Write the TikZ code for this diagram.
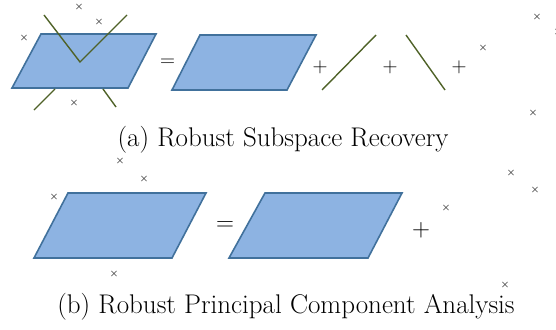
\documentclass[tikz,border=0pt]{standalone}
\definecolor{planefill}{HTML}{8DB3E2}
\definecolor{planeedge}{HTML}{41719C}
\definecolor{lineolive}{HTML}{4F6228}
\begin{document}
\begin{tikzpicture}
	[x=1pt,y=-1pt,
	plane/.style={fill=planefill,draw=planeedge,line width=1.6pt},
	subline/.style={draw=lineolive,line width=1.4pt},
	outlier/.style={inner sep=0pt,text=black!85,
		font=\fontsize{10}{10}\selectfont\boldmath},
	opa/.style={inner sep=0pt,font=\fontsize{20}{20}\selectfont},
	opb/.style={inner sep=0pt,font=\fontsize{23}{23}\selectfont},
	caption/.style={inner sep=0pt,anchor=base,
		font=\fontsize{27}{29}\selectfont}]
	\useasboundingbox (0,0) rectangle (556,329);
	\draw[plane] (41,34) -- (156,34) -- (128,88) -- (12,88) -- cycle;
	\coordinate (vtx) at (80,62);
	\draw[subline] (44,15) -- (vtx) -- (127,15);
	\draw[subline] (55,89) -- (34,110);
	\draw[subline] (103,89) -- (116,107);
	\node[outlier] (xa1) at (79,7) {$\times$};
	\node[outlier] (xa2) at (99,22) {$\times$};
	\node[outlier] (xa3) at (24,38) {$\times$};
	\node[outlier] (xa4) at (74,103) {$\times$};
	\node[opa] (eqa) at (167.5,63) {$=$};
	\draw[plane] (200,35) -- (316,35) -- (287,90) -- (172,90) -- cycle;
	\node[opa] (plusa1) at (320,67) {$+$};
	\draw[subline] (322,90) -- (376,35);
	\node[opa] (plusa2) at (390,67) {$+$};
	\draw[subline] (406,35) -- (445,90);
	\node[opa] (plusa3) at (459,67) {$+$};
	\node[outlier] (xa5) at (483,48) {$\times$};
	\node[outlier] (xa6) at (537,17) {$\times$};
	\node[outlier] (xa7) at (533,113) {$\times$};
	\node[outlier] (xa8) at (558,32) {$\times$};
	\node[caption] (capa) at (283,146) {(a) Robust Subspace Recovery};
	\draw[plane] (68,193) -- (206,193) -- (172,258) -- (34,258) -- cycle;
	\node[outlier] (xb1) at (120,161) {$\times$};
	\node[outlier] (xb2) at (144,179) {$\times$};
	\node[outlier] (xb3) at (54,197) {$\times$};
	\node[outlier] (xb4) at (114,274) {$\times$};
	\node[opb] (eqb) at (225,226) {$=$};
	\draw[plane] (265,193) -- (402,193) -- (368,258) -- (229,258) -- cycle;
	\node[opb] (plusb) at (421,230) {$+$};
	\node[outlier] (xb5) at (446,208) {$\times$};
	\node[outlier] (xb6) at (511,173) {$\times$};
	\node[outlier] (xb7) at (535,190) {$\times$};
	\node[outlier] (xb8) at (505,285) {$\times$};
	\node[caption] (capb) at (286,313) {(b) Robust Principal Component Analysis};
\end{tikzpicture}
\end{document}
